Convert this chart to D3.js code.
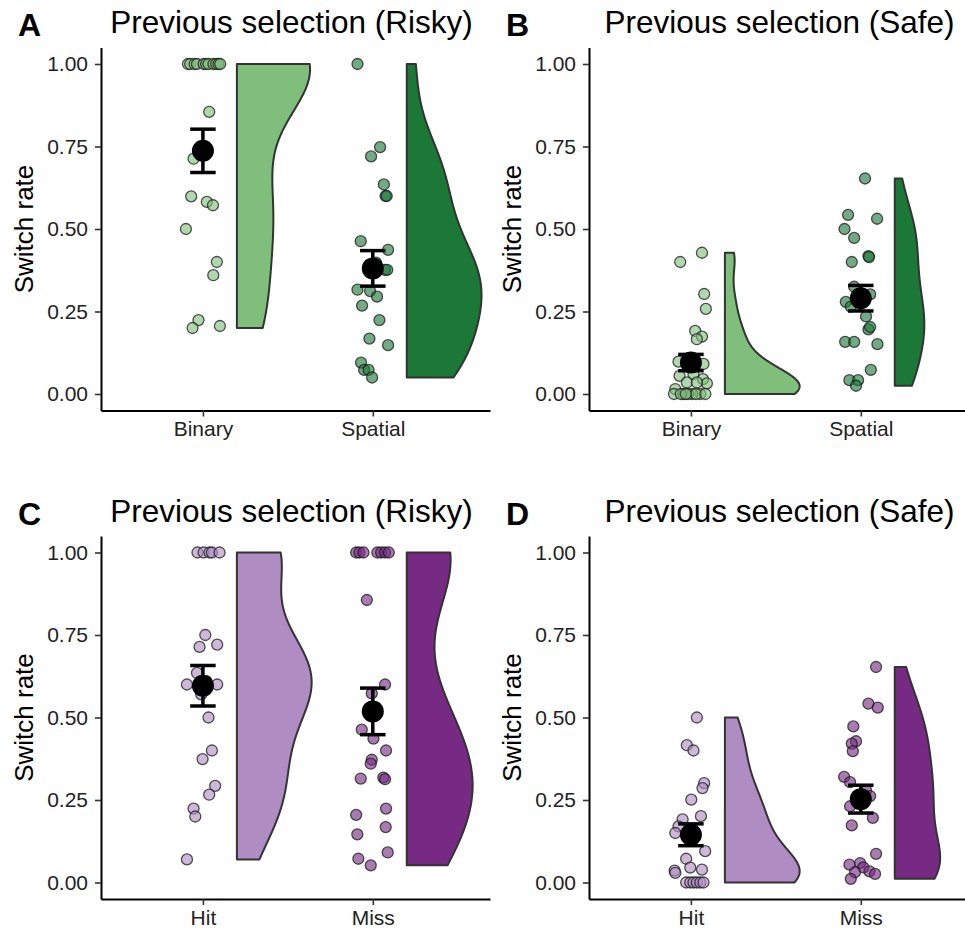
<!DOCTYPE html>
<html><head><meta charset="utf-8">
<script src="https://cdn.jsdelivr.net/npm/d3@7"></script>
<style>body{margin:0;background:#fff} svg{display:block}</style>
</head><body>
<svg id="chart" width="965" height="930"></svg>
<script>
// ---------------- data ----------------
const panelLetters = ["A", "B", "C", "D"];
const panelTitles = ["Previous selection (Risky)", "Previous selection (Safe)", "Previous selection (Risky)", "Previous selection (Safe)"];
const categoriesTop = ["Binary", "Spatial"];
const categoriesBottom = ["Hit", "Miss"];
const yTickValues = [0, 0.25, 0.5, 0.75, 1];
const yAxisLabel = "Switch rate";
const coloursTop = ["#7fbf7b", "#1b7837"];
const coloursBottom = ["#af8dc3", "#762a83"];

// Panel A: previous risky, Binary / Spatial
const riskyBinary = [1,1,1,1,1,1,1,1,1,1,1, 0.855,0.713,0.599,0.582,0.572,0.50,0.40,0.36,0.224,0.20,0.206];
const riskyBinaryJitter = [-0.088,-0.075,-0.049,-0.035,0.004,0.019,0.033,0.062,0.078,0.092,0.102, 0.037,-0.055,-0.069,0.023,0.059,-0.1,0.082,0.061,-0.026,-0.061,0.1];
const riskySpatial = [1.0,0.748,0.72,0.635,0.6,0.6,0.463,0.437,0.398,0.376,0.376,0.316,0.312,0.295,0.268,0.224,0.168,0.148,0.095,0.073,0.073,0.05];
const riskySpatialJitter = [-0.09,0.043,-0.01,0.065,0.075,0.082,-0.071,0.09,0.019,0.072,0.085,-0.09,-0.016,0.025,-0.063,0.039,-0.02,0.09,-0.069,-0.051,-0.025,-0.004];

// Panel B: previous safe, Binary / Spatial
const safeBinary = [0.428,0.40,0.303,0.258,0.191,0.174,0.166,0.098,0.091,0.09,0.055,0.06,0.035,0.045,0.032,0.035,0.015,0,0,0,0,0,0,0,0,0];
const safeBinaryJitter = [0.065,-0.063,0.078,0.088,0.025,0.065,0.035,-0.073,0.074,0,-0.067,0.015,-0.024,0.071,0.094,0.035,-0.092,-0.1,-0.044,0.055,0.008,-0.016,-0.06,0.03,0.085,-0.03];
const safeSpatial = [0.653,0.543,0.531,0.50,0.473,0.418,0.415,0.40,0.325,0.302,0.279,0.265,0.235,0.196,0.203,0.158,0.158,0.151,0.073,0.042,0.042,0.025];
const safeSpatialJitter = [0.025,-0.075,0.096,-0.096,-0.039,0.045,0.049,-0.053,-0.039,0.055,-0.088,-0.059,0.031,0.045,0.055,-0.092,-0.039,0.098,0.059,-0.067,-0.016,-0.028];

// Panel C: previous risky, Hit / Miss
const riskyHit = [1,1,1,1,1, 0.75,0.714,0.721,0.635,0.60,0.60,0.59,0.61,0.57,0.50,0.40,0.374,0.293,0.266,0.224,0.20,0.07];
const riskyHitJitter = [-0.032,0.004,0.039,0.053,0.098, 0.014,-0.02,0.084,-0.035,-0.094,0.084,0.0,0.02,-0.01,0.033,0.053,-0.002,0.072,0.037,-0.055,-0.045,-0.094];
const riskyMiss = [1,1,1,1,1,1,1, 0.856,0.60,0.573,0.463,0.436,0.40,0.372,0.36,0.315,0.318,0.313,0.224,0.205,0.168,0.146,0.091,0.072,0.052];
const riskyMissJitter = [-0.098,-0.079,-0.055,0.027,0.049,0.072,0.094, -0.035,0.072,-0.006,-0.065,0.004,0.078,-0.006,-0.012,-0.071,0.062,0.072,0.078,-0.098,0.076,-0.091,0.088,-0.085,-0.012];

// Panel D: previous safe, Hit / Miss
const safeHit = [0.50,0.416,0.40,0.301,0.286,0.251,0.191,0.201,0.17,0.15,0.095,0.072,0.045,0.039,0.036,0.029,0,0,0,0,0,0];
const safeHitJitter = [0.035,-0.024,0.015,0.078,0.068,0.002,-0.049,0.059,-0.073,-0.092,0.084,-0.028,-0.004,0.065,-0.096,-0.092,-0.028,-0.004,0.015,0.035,0.055,0.074];
const safeMiss = [0.653,0.542,0.53,0.473,0.428,0.421,0.398,0.32,0.304,0.279,0.262,0.231,0.196,0.173,0.087,0.054,0.059,0.046,0.031,0.034,0.026,0.011];
const safeMissJitter = [0.09,0.045,0.1,-0.044,-0.028,-0.053,-0.047,-0.098,-0.063,0.031,0.055,-0.063,0.071,-0.053,0.09,-0.067,-0.004,0.015,-0.034,0.051,0.084,-0.059];

// ---------------- layout ----------------
const panels = [
  {letter: panelLetters[0], title: panelTitles[0], cats: categoriesTop, colours: coloursTop,
   groups: [[riskyBinary, riskyBinaryJitter], [riskySpatial, riskySpatialJitter]], left: 101, top: 47.5},
  {letter: panelLetters[1], title: panelTitles[1], cats: categoriesTop, colours: coloursTop,
   groups: [[safeBinary, safeBinaryJitter], [safeSpatial, safeSpatialJitter]], left: 589, top: 47.5},
  {letter: panelLetters[2], title: panelTitles[2], cats: categoriesBottom, colours: coloursBottom,
   groups: [[riskyHit, riskyHitJitter], [riskyMiss, riskyMissJitter]], left: 101, top: 536},
  {letter: panelLetters[3], title: panelTitles[3], cats: categoriesBottom, colours: coloursBottom,
   groups: [[safeHit, safeHitJitter], [safeMiss, safeMissJitter]], left: 589, top: 536}
];
const PW = 389, PH = 363;
const FONT = "'Liberation Sans', Arial, Helvetica, sans-serif";
const svg = d3.select("#chart");

function nrd0(v) {
  const s = v.slice().sort(d3.ascending);
  const sd = d3.deviation(s);
  const iqr = (d3.quantileSorted(s, 0.75) - d3.quantileSorted(s, 0.25)) / 1.34;
  let lo = Math.min(sd, iqr);
  if (!(lo > 0)) lo = sd || 1;
  return 0.9 * lo * Math.pow(s.length, -0.2);
}
function kde(v) {
  const bw = nrd0(v);
  const lo = d3.min(v), hi = d3.max(v);
  return d3.range(512).map(i => {
    const y = lo + (hi - lo) * i / 511;
    const d = d3.mean(v, x => Math.exp(-0.5 * ((y - x) / bw) ** 2)) / (bw * Math.sqrt(2 * Math.PI));
    return [y, d];
  });
}

panels.forEach(p => {
  const g = svg.append("g").attr("transform", `translate(${p.left},${p.top})`);
  const x = d3.scaleLinear().domain([0.4, 2.69]).range([0, PW]);
  const y = d3.scaleLinear().domain([-0.05, 1.05]).range([PH, 0]);

  // violins (flat / half), scale = "area"
  const dens = p.groups.map(gr => kde(gr[0]));
  const maxD = d3.max(dens, d => d3.max(d, e => e[1]));
  const halfW = 0.44;
  dens.forEach((d, i) => {
    const c = i + 1;
    const area = d3.area()
      .y(e => y(e[0]))
      .x0(x(c + 0.2))
      .x1(e => x(c + 0.2 + e[1] / maxD * halfW));
    g.append("path").attr("d", area(d))
      .attr("fill", p.colours[i]).attr("stroke", "#333").attr("stroke-width", 2)
      .attr("stroke-linejoin", "round");
  });

  // jittered points
  p.groups.forEach((gr, i) => {
    const c = i + 1;
    g.append("g").selectAll("circle").data(gr[0].map((v, k) => ({v, j: gr[1][k]})))
      .join("circle")
      .attr("cx", d => x(c + d.j)).attr("cy", d => y(d.v)).attr("r", 5.5)
      .attr("fill", p.colours[i]).attr("fill-opacity", 0.62)
      .attr("stroke", "#1a1a1a").attr("stroke-opacity", 0.75).attr("stroke-width", 1.3);
  });

  // mean +- SE
  p.groups.forEach((gr, i) => {
    const c = i + 1;
    const v = gr[0];
    const m = d3.mean(v);
    const se = d3.deviation(v) / Math.sqrt(v.length);
    const eg = g.append("g").attr("stroke", "#000").attr("stroke-width", 3.5);
    eg.append("line").attr("x1", x(c)).attr("x2", x(c)).attr("y1", y(m - se)).attr("y2", y(m + se));
    [m - se, m + se].forEach(t => eg.append("line")
      .attr("x1", x(c - 0.075)).attr("x2", x(c + 0.075)).attr("y1", y(t)).attr("y2", y(t)));
    g.append("circle").attr("cx", x(c)).attr("cy", y(m)).attr("r", 11).attr("fill", "#000");
  });

  // axes
  const ya = g.append("g").call(d3.axisLeft(y).tickValues(yTickValues).tickFormat(d3.format(".2f")).tickSize(6).tickSizeOuter(0).tickPadding(7));
  const xa = g.append("g").attr("transform", `translate(0,${PH})`)
    .call(d3.axisBottom(x).tickValues([1, 2]).tickFormat(d => p.cats[d - 1]).tickSize(6).tickSizeOuter(0).tickPadding(5));
  [ya, xa].forEach(a => {
    a.select(".domain").attr("stroke", "#000").attr("stroke-width", 2);
    a.selectAll(".tick line").attr("stroke", "#333").attr("stroke-width", 1.6);
    a.selectAll(".tick text").attr("fill", "#222").style("font-family", FONT).style("font-size", "21px");
  });

  // y label
  g.append("text").attr("transform", `translate(${-68},${PH / 2}) rotate(-90)`)
    .attr("text-anchor", "middle").style("font-family", FONT).style("font-size", "26px").attr("fill", "#000")
    .text(yAxisLabel);
  // title
  g.append("text").attr("x", PW / 2 - 4).attr("y", -14.5)
    .attr("text-anchor", "middle").style("font-family", FONT).style("font-size", "31.5px").attr("fill", "#000")
    .text(p.title);
  // panel letter
  g.append("text").attr("x", -83).attr("y", -11.5)
    .style("font-family", FONT).style("font-size", "32px").style("font-weight", "bold").attr("fill", "#000")
    .text(p.letter);
});
</script>
</body></html>
